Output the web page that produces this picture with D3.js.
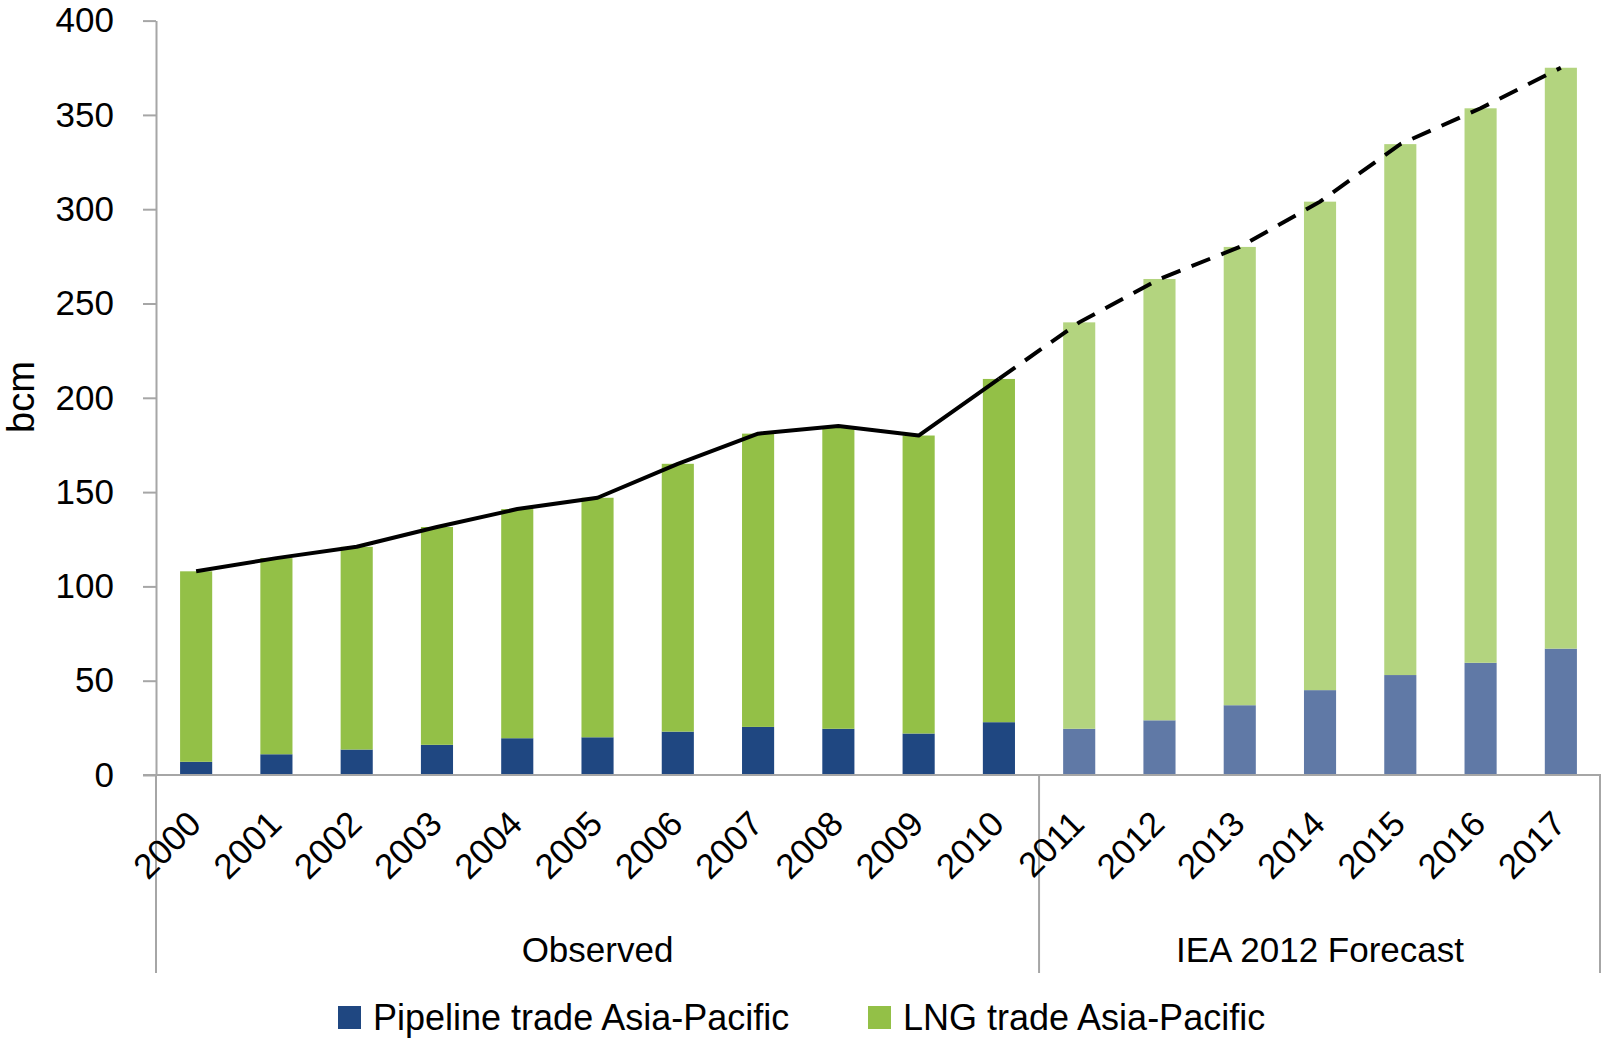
<!DOCTYPE html>
<html><head><meta charset="utf-8">
<script src="https://cdn.jsdelivr.net/npm/d3@7"></script>
<style>
html,body{margin:0;padding:0;background:#fff;}
svg{display:block;font-family:"Liberation Sans",Arial,sans-serif;}
</style></head>
<body>
<svg id="chart" width="1601" height="1038"></svg>
<script>
const years = ["2000","2001","2002","2003","2004","2005","2006","2007","2008","2009","2010","2011","2012","2013","2014","2015","2016","2017"];
const pipeline = [7, 11, 13.5, 16, 19.5, 20, 23, 25.5, 24.5, 22, 28, 24.5, 29, 37, 45, 53, 59.5, 67];
const lng = [101, 104, 107.5, 115.5, 121.5, 127, 142, 155.5, 160.5, 158, 182, 215.5, 234, 243, 259, 281.5, 294, 308];
const forecastStart = "2011";
const groups = [{name:"Observed", from:"2000", to:"2010"}, {name:"IEA 2012 Forecast", from:"2011", to:"2017"}];
const yTicks = [0,50,100,150,200,250,300,350,400];
const seriesNames = ["Pipeline trade Asia-Pacific","LNG trade Asia-Pacific"];

(function(){
const colors = {pipe:"#1f4781", pipeF:"#6079a6", lng:"#93c047", lngF:"#b3d47f", axis:"#a6a6a6"};

const svg = d3.select("#chart");
const mLeft = 156, mRight = 1601, mTop = 20.6, mBottom = 775;
const x = d3.scaleBand().domain(years).range([mLeft, mRight]).paddingInner(0.6).paddingOuter(0.3);
const y = d3.scaleLinear().domain([0,400]).range([mBottom, mTop]);
const isF = d => +d >= +forecastStart;

const data = years.map((yr,i)=>({year:yr, pipe:pipeline[i], lng:lng[i], total:pipeline[i]+lng[i]}));

// bars
const g = svg.append("g");
g.selectAll("rect.pipe").data(data).join("rect").attr("class","pipe")
  .attr("x", d=>x(d.year)).attr("width", x.bandwidth())
  .attr("y", d=>y(d.pipe)).attr("height", d=>y(0)-y(d.pipe))
  .attr("fill", d=>isF(d.year)?colors.pipeF:colors.pipe);
g.selectAll("rect.lng").data(data).join("rect").attr("class","lng")
  .attr("x", d=>x(d.year)).attr("width", x.bandwidth())
  .attr("y", d=>y(d.total)).attr("height", d=>y(d.pipe)-y(d.total))
  .attr("fill", d=>isF(d.year)?colors.lngF:colors.lng);

// y axis
const yAxis = d3.axisLeft(y).tickValues(yTicks).tickSize(13).tickPadding(29).tickSizeOuter(0);
const ya = svg.append("g").attr("transform",`translate(${mLeft},0)`).call(yAxis);
ya.select(".domain").attr("stroke",colors.axis).attr("stroke-width",2);
ya.selectAll(".tick line").attr("stroke",colors.axis).attr("stroke-width",2);
ya.selectAll(".tick text").attr("font-size",35).attr("fill","#000").attr("font-family","Liberation Sans, Arial, sans-serif");

// x axis baseline
svg.append("line").attr("x1",mLeft-13).attr("x2",mRight).attr("y1",y(0)).attr("y2",y(0))
  .attr("stroke",colors.axis).attr("stroke-width",2);

// group separators
const sepBottom = 973;
const step = x.step();
const seps = [mLeft, mLeft + step*years.indexOf(forecastStart), mRight-1];
svg.selectAll("line.sep").data(seps).join("line").attr("class","sep")
  .attr("x1",d=>d).attr("x2",d=>d).attr("y1",y(0)).attr("y2",sepBottom)
  .attr("stroke",colors.axis).attr("stroke-width",2);

// x labels
svg.append("g").selectAll("text").data(years).join("text")
  .attr("transform", d=>`translate(${x(d)+x.bandwidth()/2+7},826) rotate(-45)`)
  .attr("text-anchor","end").attr("font-size",35).attr("fill","#000").text(d=>d);

// group labels
svg.append("g").selectAll("text").data(groups).join("text")
  .attr("x", d=> (mLeft + step*years.indexOf(d.from) + mLeft + step*(years.indexOf(d.to)+1))/2 )
  .attr("y", 962).attr("text-anchor","middle").attr("font-size",35).attr("fill","#000").text(d=>d.name);

// y title
svg.append("text").attr("transform","translate(34,397) rotate(-90)").attr("text-anchor","middle")
  .attr("font-size",38).attr("fill","#000").text("bcm");

// total line
const line = d3.line().x(d=>x(d.year)+x.bandwidth()/2).y(d=>y(d.total));
const fi = years.indexOf(forecastStart);
svg.append("path").datum(data.slice(0,fi)).attr("d",line).attr("fill","none")
  .attr("stroke","#000").attr("stroke-width",4).attr("stroke-linejoin","round");
svg.append("path").datum(data.slice(fi-1)).attr("d",line).attr("fill","none")
  .attr("stroke","#000").attr("stroke-width",4).attr("stroke-dasharray","20,12");

// legend
const leg = svg.append("g");
const legItems = [{name:seriesNames[0], color:colors.pipe, x:338},{name:seriesNames[1], color:colors.lng, x:868}];
legItems.forEach(it=>{
  leg.append("rect").attr("x",it.x).attr("y",1006).attr("width",23).attr("height",23).attr("fill",it.color);
  leg.append("text").attr("x",it.x+35).attr("y",1030).attr("font-size",36).attr("fill","#000").text(it.name);
});
})();
</script>
</body></html>
